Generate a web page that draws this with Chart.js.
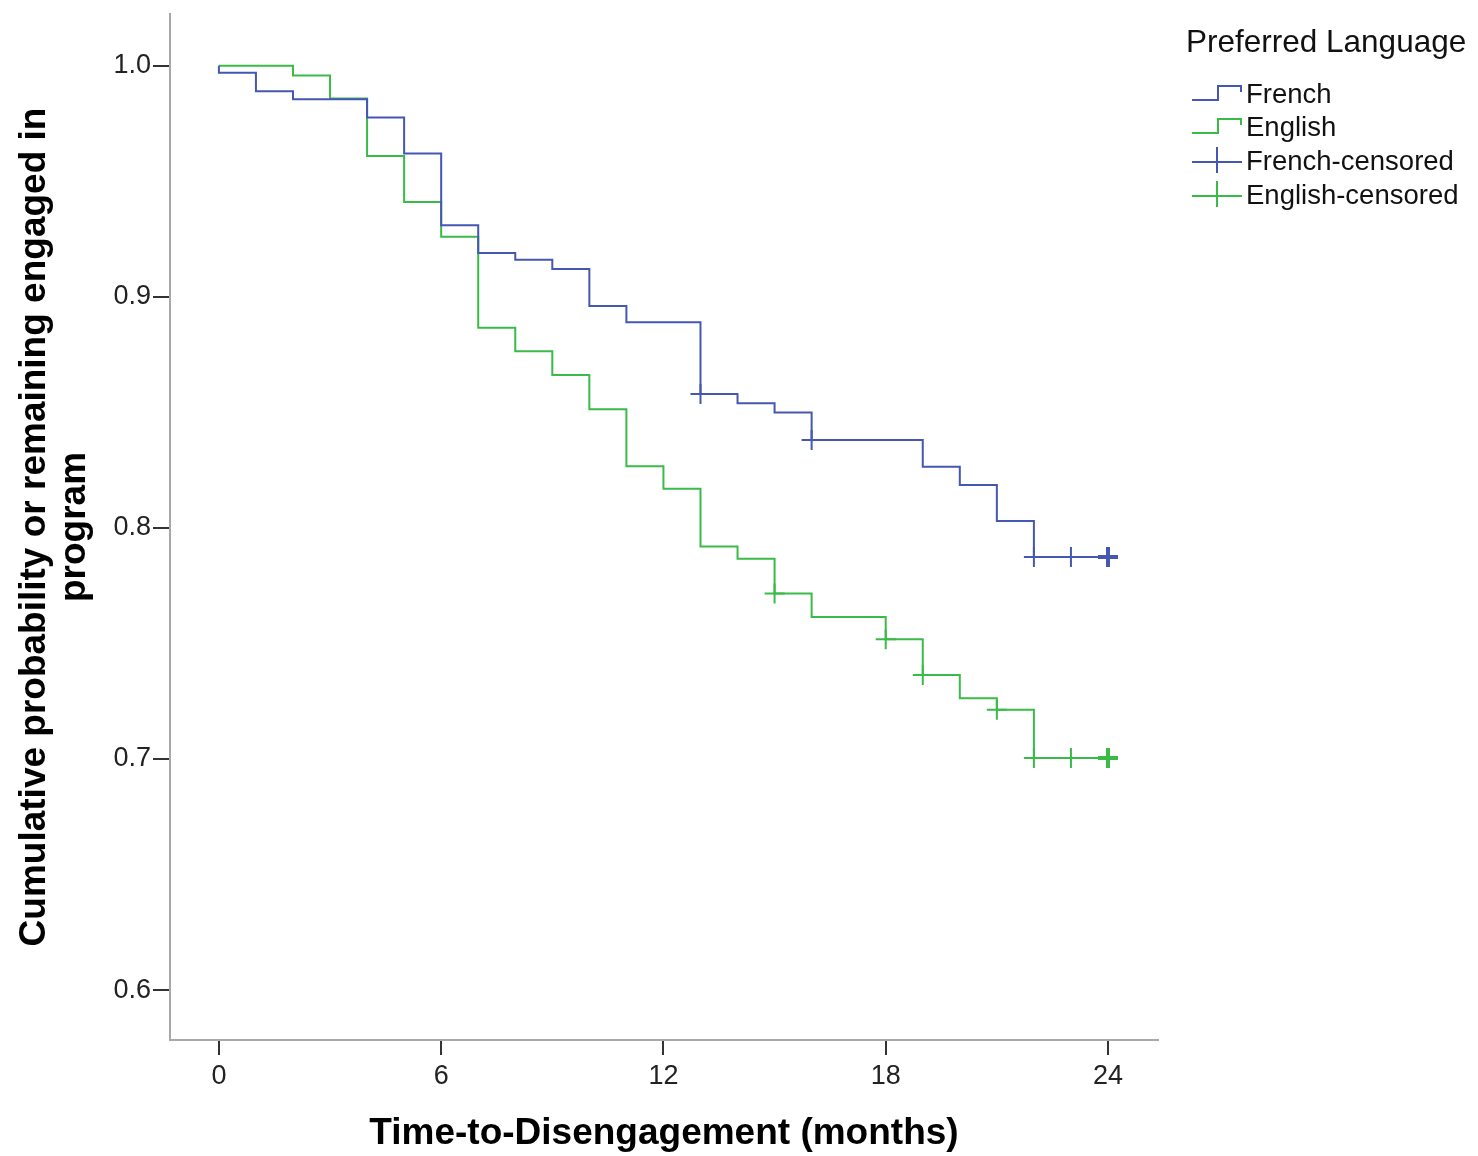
<!DOCTYPE html>
<html>
<head>
<meta charset="utf-8">
<script src="https://cdn.jsdelivr.net/npm/chart.js@4.4.0/dist/chart.umd.min.js"></script>
<style>
  body { margin: 0; background: #fff; }
  canvas { display: block; }
</style>
</head>
<body>
<canvas id="myChart" width="1478" height="1156"></canvas>
<script>
// Kaplan-Meier estimates (months, cumulative probability)
const frenchTimes = [0, 0, 1, 2, 4, 5, 6, 7, 8, 9, 10, 11, 13, 14, 15, 16, 19, 20, 21, 22, 24];
const frenchSurv = [1.0, 0.997, 0.989, 0.9855, 0.9776, 0.962, 0.931, 0.919, 0.916, 0.912, 0.896, 0.889, 0.858, 0.854, 0.850, 0.838, 0.8265, 0.8186, 0.803, 0.7874, 0.7874];

const englishTimes = [0, 2, 3, 4, 5, 6, 7, 8, 9, 10, 11, 12, 13, 14, 15, 16, 18, 19, 20, 21, 22, 24];
const englishSurv = [1.0, 0.9958, 0.9858, 0.961, 0.941, 0.926, 0.8866, 0.8765, 0.8662, 0.8514, 0.8267, 0.8169, 0.792, 0.7867, 0.7716, 0.7615, 0.7518, 0.7364, 0.7263, 0.7213, 0.7004, 0.7004];

// censored observations
const frenchCensTimes = [13, 16, 22, 23, 24];
const frenchCensSurv = [0.858, 0.838, 0.7874, 0.7874, 0.7874];
const englishCensTimes = [15, 18, 19, 21, 22, 23, 24];
const englishCensSurv = [0.7716, 0.7518, 0.7364, 0.7213, 0.7004, 0.7004, 0.7004];

const xTicks = [0, 6, 12, 18, 24];
const yTicks = [0.6, 0.7, 0.8, 0.9, 1.0];

const seriesLabels = ['French', 'English', 'French-censored', 'English-censored'];
const legendTitle = 'Preferred Language';

const BLUE = '#4457b3';
const GREEN = '#3abb48';
const FONT = "'Liberation Sans', Arial, sans-serif";

function pts(xs, ys) {
  return xs.map((x, i) => ({ x: x, y: ys[i] }));
}

// legend drawn by hand, SPSS style (step icon / cross icon)
const spssLegend = {
  id: 'spssLegend',
  afterDraw(chart) {
    const ctx = chart.ctx;
    ctx.save();
    ctx.fillStyle = '#111';
    ctx.textBaseline = 'middle';
    ctx.textAlign = 'left';
    ctx.font = '31.5px ' + FONT;
    ctx.fillText(legendTitle, 1186, 43);
    ctx.font = '27.5px ' + FONT;
    const rows = [95, 128, 162, 196];
    chart.data.datasets.forEach((ds, i) => {
      const y = rows[i];
      ctx.strokeStyle = ds.borderColor;
      ctx.lineWidth = 2;
      ctx.beginPath();
      if (i < 2) {
        ctx.moveTo(1192, y + 5);
        ctx.lineTo(1218, y + 5);
        ctx.lineTo(1218, y - 9);
        ctx.lineTo(1241, y - 9);
        ctx.lineTo(1241, y - 3);
      } else {
        ctx.moveTo(1192, y);
        ctx.lineTo(1242, y);
        ctx.moveTo(1217, y - 15);
        ctx.lineTo(1217, y + 11);
      }
      ctx.stroke();
      ctx.fillText(ds.label, 1246, y);
    });
    ctx.restore();
  }
};

const ctx = document.getElementById('myChart').getContext('2d');
const chart = new Chart(ctx, {
  type: 'line',
  data: {
    datasets: [{
      label: seriesLabels[0],
      data: pts(frenchTimes, frenchSurv),
      borderColor: BLUE,
      borderWidth: 2,
      stepped: true,
      pointRadius: 0,
      fill: false
    }, {
      label: seriesLabels[1],
      data: pts(englishTimes, englishSurv),
      borderColor: GREEN,
      borderWidth: 2,
      stepped: true,
      pointRadius: 0,
      fill: false
    }, {
      label: seriesLabels[2],
      data: pts(frenchCensTimes, frenchCensSurv),
      borderColor: BLUE,
      showLine: false,
      pointStyle: 'cross',
      pointRadius: 10,
      pointBorderWidth: c => c.dataIndex === frenchCensTimes.length - 1 ? 4 : 2
    }, {
      label: seriesLabels[3],
      data: pts(englishCensTimes, englishCensSurv),
      borderColor: GREEN,
      showLine: false,
      pointStyle: 'cross',
      pointRadius: 10,
      pointBorderWidth: c => c.dataIndex === englishCensTimes.length - 1 ? 4 : 2
    }]
  },
  options: {
    responsive: false,
    devicePixelRatio: 1,
    animation: false,
    layout: { padding: { left: 0, right: 320, top: 7, bottom: 0 } },
    plugins: {
      legend: { display: false },
      tooltip: { enabled: false }
    },
    scales: {
      x: {
        type: 'linear',
        min: -1.32,
        max: 25.35,
        afterBuildTicks: s => { s.ticks = xTicks.map(v => ({ value: v })); },
        afterFit: s => { s.height = 116; s.paddingLeft = 0; s.paddingRight = 0; },
        grid: { drawOnChartArea: false, drawTicks: true, tickLength: 15, color: '#333', lineWidth: 2 },
        border: { color: '#a8a8a8', width: 2 },
        ticks: { color: '#222', padding: 5, font: { family: FONT, size: 27 }, maxRotation: 0 },
        title: {
          display: true,
          text: 'Time-to-Disengagement (months)',
          color: '#000',
          font: { family: FONT, size: 37, weight: 'bold' },
          padding: { top: 0, bottom: 0 }
        }
      },
      y: {
        min: 0.5784,
        max: 1.0224,
        afterBuildTicks: s => { s.ticks = yTicks.map(v => ({ value: v })); },
        afterFit: s => { s.width = 170; s.paddingTop = 0; s.paddingBottom = 0; },
        grid: { drawOnChartArea: false, drawTicks: true, tickLength: 17, color: '#333', lineWidth: 2 },
        border: { color: '#a8a8a8', width: 2 },
        ticks: { color: '#222', padding: 2, font: { family: FONT, size: 27 }, callback: v => v.toFixed(1) },
        title: {
          display: true,
          text: ['Cumulative probability or remaining engaged in', 'program'],
          color: '#000',
          font: { family: FONT, size: 37, weight: 'bold', lineHeight: 1.1 },
          padding: { top: 14, bottom: 0 }
        }
      }
    }
  },
  plugins: [spssLegend]
});
</script>
</body>
</html>
